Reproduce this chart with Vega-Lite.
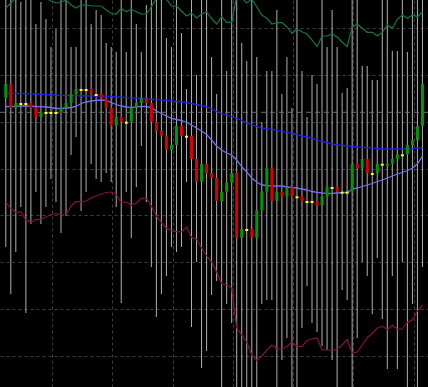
{
  "$schema": "https://vega.github.io/schema/vega-lite/v6.json",
  "width": 428,
  "height": 387,
  "padding": 0,
  "autosize": {"type": "none"},
  "background": "#000000",
  "config": {
    "view": {"stroke": null},
    "axis": {"grid": true, "gridColor": "#3e3e3e", "gridDash": [3, 3], "gridWidth": 1, "labels": false, "ticks": false, "domain": false, "title": null}
  },
  "data": {"values": [
    {"i":0,"d":"up","t":84,"b":97.7,"lt":0,"lb":247,"m1":93.3,"m2":106.7,"g":8,"r":202},
    {"i":1,"d":"down","t":84,"b":107.7,"lt":0,"lb":294,"m1":93.3,"m2":106.5,"g":3,"r":208.5},
    {"i":2,"d":"up","t":103,"b":107.7,"lt":0,"lb":252,"m1":93.4,"m2":106.3,"g":-2,"r":212.5},
    {"i":3,"d":"doji","t":103,"b":105,"lt":2,"lb":207,"m1":93.5,"m2":106,"g":-4,"r":212},
    {"i":4,"d":"doji","t":103,"b":105,"lt":0,"lb":313,"m1":93.6,"m2":106,"g":-4,"r":220},
    {"i":5,"d":"down","t":103,"b":107.7,"lt":0,"lb":224,"m1":93.8,"m2":106.2,"g":-3,"r":222},
    {"i":6,"d":"down","t":107.7,"b":117,"lt":24,"lb":192,"m1":94,"m2":106.5,"g":-3,"r":219.5},
    {"i":7,"d":"up","t":112.3,"b":117,"lt":2,"lb":224,"m1":94.3,"m2":106.7,"g":-2,"r":219.5},
    {"i":8,"d":"doji","t":112,"b":114,"lt":19,"lb":207,"m1":94.5,"m2":107,"g":-2,"r":217},
    {"i":9,"d":"doji","t":112,"b":114,"lt":47,"lb":179,"m1":94.8,"m2":107.5,"g":1,"r":214.5},
    {"i":10,"d":"doji","t":112,"b":114,"lt":29,"lb":202,"m1":95,"m2":108.5,"g":3,"r":213.5},
    {"i":11,"d":"up","t":107.7,"b":112.3,"lt":0,"lb":233,"m1":95.3,"m2":108.5,"g":2,"r":215},
    {"i":12,"d":"up","t":103,"b":107.7,"lt":0,"lb":216,"m1":95.6,"m2":108,"g":0,"r":214.5},
    {"i":13,"d":"up","t":93.7,"b":103,"lt":47,"lb":155,"m1":95.7,"m2":107.5,"g":5,"r":206},
    {"i":14,"d":"up","t":89,"b":93.7,"lt":47,"lb":137,"m1":95.7,"m2":106.5,"g":8,"r":201.7},
    {"i":15,"d":"doji","t":89,"b":91,"lt":0,"lb":211,"m1":95.8,"m2":103.5,"g":5,"r":201.7},
    {"i":16,"d":"doji","t":89,"b":91,"lt":0,"lb":192,"m1":95.8,"m2":102,"g":5,"r":201},
    {"i":17,"d":"down","t":89,"b":93.7,"lt":24,"lb":164,"m1":95.9,"m2":101,"g":6,"r":198},
    {"i":18,"d":"doji","t":94,"b":96,"lt":10,"lb":179,"m1":96,"m2":100.3,"g":6,"r":196},
    {"i":19,"d":"down","t":93.7,"b":98.3,"lt":15,"lb":182,"m1":96.1,"m2":100,"g":6,"r":194},
    {"i":20,"d":"down","t":98.3,"b":107.7,"lt":43,"lb":173,"m1":96.2,"m2":100.5,"g":10,"r":192.5},
    {"i":21,"d":"down","t":107.7,"b":125.7,"lt":47,"lb":182,"m1":96.4,"m2":102.5,"g":13.5,"r":192},
    {"i":22,"d":"up","t":117,"b":125.7,"lt":52,"lb":207,"m1":96.8,"m2":104.5,"g":14,"r":194.5},
    {"i":23,"d":"down","t":117,"b":121.7,"lt":0,"lb":303,"m1":97.2,"m2":106,"g":8.3,"r":202.5},
    {"i":24,"d":"doji","t":121.7,"b":123.7,"lt":52,"lb":192,"m1":97.6,"m2":107,"g":11.7,"r":202},
    {"i":25,"d":"up","t":107.7,"b":121.7,"lt":0,"lb":238,"m1":97.8,"m2":107.3,"g":9.3,"r":205},
    {"i":26,"d":"up","t":103,"b":107.7,"lt":24,"lb":187,"m1":98.2,"m2":107,"g":11.7,"r":203},
    {"i":27,"d":"up","t":98.3,"b":103,"lt":52,"lb":146,"m1":98.6,"m2":106.3,"g":14,"r":198.3},
    {"i":28,"d":"down","t":98.3,"b":103,"lt":5,"lb":202,"m1":99,"m2":106.5,"g":14,"r":198.5},
    {"i":29,"d":"down","t":103,"b":121.7,"lt":0,"lb":267,"m1":99.4,"m2":107.5,"g":7,"r":206},
    {"i":30,"d":"down","t":121.7,"b":131,"lt":0,"lb":317,"m1":99.7,"m2":111,"g":-2,"r":216},
    {"i":31,"d":"down","t":131,"b":135.7,"lt":0,"lb":294,"m1":100.1,"m2":113.5,"g":-3,"r":222.5},
    {"i":32,"d":"down","t":135.7,"b":149.7,"lt":38,"lb":276,"m1":100.5,"m2":116,"g":-1,"r":228.3},
    {"i":33,"d":"up","t":145,"b":149.7,"lt":47,"lb":247,"m1":101,"m2":118.5,"g":6,"r":230.5},
    {"i":34,"d":"up","t":125.7,"b":145,"lt":0,"lb":252,"m1":101.5,"m2":119.5,"g":6,"r":231.7},
    {"i":35,"d":"down","t":125.7,"b":135.7,"lt":33,"lb":247,"m1":102,"m2":120.5,"g":11,"r":232},
    {"i":36,"d":"doji","t":135.7,"b":137.7,"lt":89,"lb":182,"m1":102.7,"m2":122.5,"g":16,"r":227},
    {"i":37,"d":"down","t":135.7,"b":159,"lt":0,"lb":327,"m1":103.5,"m2":125,"g":13.3,"r":237.5},
    {"i":38,"d":"down","t":159,"b":181.7,"lt":75,"lb":262,"m1":104.5,"m2":128,"g":18,"r":239.5},
    {"i":39,"d":"up","t":163.7,"b":181.7,"lt":0,"lb":368,"m1":105.5,"m2":131,"g":14,"r":248},
    {"i":40,"d":"down","t":163.7,"b":173,"lt":0,"lb":351,"m1":106.5,"m2":134.5,"g":12,"r":256},
    {"i":41,"d":"down","t":173,"b":177.7,"lt":57,"lb":295,"m1":109,"m2":140,"g":18.5,"r":262},
    {"i":42,"d":"down","t":177.7,"b":201,"lt":94,"lb":281,"m1":111.5,"m2":146,"g":24,"r":272},
    {"i":43,"d":"up","t":191.7,"b":201,"lt":0,"lb":387,"m1":113.5,"m2":150,"g":16.7,"r":283.5},
    {"i":44,"d":"up","t":182.3,"b":191.7,"lt":71,"lb":304,"m1":115,"m2":153,"g":22.3,"r":285},
    {"i":45,"d":"up","t":173,"b":182.3,"lt":0,"lb":323,"m1":116.5,"m2":155,"g":22.3,"r":288},
    {"i":46,"d":"down","t":173,"b":237.7,"lt":0,"lb":387,"m1":118.5,"m2":160,"g":-4,"r":328},
    {"i":47,"d":"up","t":229,"b":237.7,"lt":43,"lb":387,"m1":120.5,"m2":166.7,"g":-2,"r":335},
    {"i":48,"d":"doji","t":229,"b":231,"lt":61,"lb":387,"m1":123,"m2":172,"g":3,"r":342},
    {"i":49,"d":"down","t":229,"b":237.7,"lt":0,"lb":387,"m1":125,"m2":178,"g":-1,"r":355},
    {"i":50,"d":"up","t":210.3,"b":237.7,"lt":57,"lb":387,"m1":126.5,"m2":182,"g":7,"r":360.5},
    {"i":51,"d":"up","t":191.7,"b":210.3,"lt":122,"lb":304,"m1":128,"m2":185,"g":15,"r":356},
    {"i":52,"d":"up","t":168.3,"b":191.7,"lt":71,"lb":300,"m1":128.8,"m2":185.5,"g":18.3,"r":350},
    {"i":53,"d":"down","t":168.3,"b":201,"lt":71,"lb":300,"m1":129.3,"m2":186,"g":24,"r":345},
    {"i":54,"d":"up","t":191.7,"b":201,"lt":10,"lb":387,"m1":130.3,"m2":186,"g":22.7,"r":349},
    {"i":55,"d":"down","t":191.7,"b":196.3,"lt":94,"lb":360,"m1":131.3,"m2":186,"g":22.7,"r":349},
    {"i":56,"d":"up","t":187,"b":196.3,"lt":57,"lb":338,"m1":132.3,"m2":187,"g":26.7,"r":346.5},
    {"i":57,"d":"down","t":187,"b":196.3,"lt":108,"lb":387,"m1":133.3,"m2":187.5,"g":33.3,"r":342},
    {"i":58,"d":"doji","t":196.3,"b":198.3,"lt":0,"lb":387,"m1":134.5,"m2":188,"g":29,"r":346.5},
    {"i":59,"d":"down","t":196.3,"b":201,"lt":71,"lb":328,"m1":136,"m2":189,"g":31.7,"r":346.5},
    {"i":60,"d":"doji","t":201,"b":203,"lt":117,"lb":286,"m1":137,"m2":190,"g":34,"r":340.5},
    {"i":61,"d":"doji","t":201,"b":203,"lt":75,"lb":323,"m1":138.3,"m2":191.5,"g":40,"r":339},
    {"i":62,"d":"down","t":201,"b":205.7,"lt":84,"lb":332,"m1":140,"m2":192.3,"g":46.7,"r":338},
    {"i":63,"d":"up","t":196.3,"b":205.7,"lt":0,"lb":346,"m1":141.5,"m2":193,"g":36,"r":350},
    {"i":64,"d":"up","t":187,"b":196.3,"lt":47,"lb":350,"m1":142.5,"m2":193.3,"g":36,"r":350},
    {"i":65,"d":"doji","t":187,"b":189,"lt":10,"lb":360,"m1":144,"m2":193.3,"g":34,"r":350},
    {"i":66,"d":"down","t":187,"b":191.7,"lt":47,"lb":387,"m1":145,"m2":193,"g":37,"r":349},
    {"i":67,"d":"doji","t":191.7,"b":193.7,"lt":93,"lb":290,"m1":145.5,"m2":192.7,"g":42,"r":345},
    {"i":68,"d":"doji","t":191.7,"b":193.7,"lt":88,"lb":300,"m1":146,"m2":192.5,"g":46.7,"r":339.5},
    {"i":69,"d":"up","t":163.7,"b":191.7,"lt":0,"lb":387,"m1":146.5,"m2":189,"g":27,"r":353},
    {"i":70,"d":"down","t":163.7,"b":168.3,"lt":0,"lb":338,"m1":147,"m2":188,"g":24,"r":352},
    {"i":71,"d":"up","t":159,"b":168.3,"lt":66,"lb":262,"m1":147.2,"m2":186.5,"g":28.3,"r":345},
    {"i":72,"d":"down","t":159,"b":173,"lt":66,"lb":276,"m1":147.7,"m2":185,"g":32.3,"r":337.5},
    {"i":73,"d":"doji","t":173,"b":175,"lt":80,"lb":314,"m1":148.2,"m2":183.5,"g":32.3,"r":333.5},
    {"i":74,"d":"up","t":163.7,"b":173,"lt":80,"lb":258,"m1":148.5,"m2":181.5,"g":36,"r":328},
    {"i":75,"d":"doji","t":163.7,"b":165.7,"lt":0,"lb":319,"m1":149,"m2":180,"g":32.3,"r":326.3},
    {"i":76,"d":"up","t":163.7,"b":165.7,"lt":0,"lb":369,"m1":149,"m2":178,"g":25,"r":329.5},
    {"i":77,"d":"up","t":159,"b":163.7,"lt":51,"lb":276,"m1":149,"m2":176,"g":28.3,"r":325.3},
    {"i":78,"d":"up","t":154.3,"b":159,"lt":51,"lb":369,"m1":149,"m2":174,"g":19.3,"r":329.3},
    {"i":79,"d":"doji","t":154.3,"b":156.3,"lt":0,"lb":262,"m1":149,"m2":172.5,"g":15,"r":329},
    {"i":80,"d":"up","t":145,"b":154.3,"lt":52,"lb":387,"m1":149,"m2":170.5,"g":18.3,"r":322.5},
    {"i":81,"d":"up","t":140.3,"b":145,"lt":0,"lb":304,"m1":148.8,"m2":168.3,"g":15,"r":319.7},
    {"i":82,"d":"up","t":126.3,"b":140.3,"lt":0,"lb":387,"m1":148,"m2":164,"g":16.7,"r":311},
    {"i":83,"d":"up","t":84,"b":125.7,"lt":0,"lb":267,"m1":147.8,"m2":156,"g":12,"r":305}
  ]},
  "layer": [
    {
      "mark": {"type": "rule", "color": "#b0b0b0", "strokeWidth": 1},
      "encoding": {
        "x": {"field": "i", "type": "quantitative", "scale": {"domain": [-0.156, 83.11], "nice": false, "zero": false},
              "axis": {"values": [9.24, 21.24, 33.24, 45.24, 57.24, 69.24, 81.24]}},
        "y": {"field": "lt", "type": "quantitative", "scale": {"domain": [0, 387], "reverse": true, "nice": false, "zero": false},
              "axis": {"values": [28.3, 75, 121.8, 168.6, 215.4, 262.2, 309, 355.8]}},
        "y2": {"field": "lb"}
      }
    },
    {
      "data": {"values": [{"level": 112.3}]},
      "mark": {"type": "rule", "color": "#707070", "strokeDash": [5, 4], "strokeWidth": 1},
      "encoding": {
        "y": {"field": "level", "type": "quantitative", "axis": {"values": [28.3, 75, 121.8, 168.6, 215.4, 262.2, 309, 355.8]}}
      }
    },
    {
      "mark": {"type": "line", "color": "#11773f", "strokeWidth": 1.2, "clip": true},
      "encoding": {
        "x": {"field": "i", "type": "quantitative", "axis": {"values": [9.24, 21.24, 33.24, 45.24, 57.24, 69.24, 81.24]}},
        "y": {"field": "g", "type": "quantitative", "axis": {"values": [28.3, 75, 121.8, 168.6, 215.4, 262.2, 309, 355.8]}}
      }
    },
    {
      "mark": {"type": "line", "color": "#86103f", "strokeWidth": 1.2, "clip": true},
      "encoding": {
        "x": {"field": "i", "type": "quantitative", "axis": {"values": [9.24, 21.24, 33.24, 45.24, 57.24, 69.24, 81.24]}},
        "y": {"field": "r", "type": "quantitative", "axis": {"values": [28.3, 75, 121.8, 168.6, 215.4, 262.2, 309, 355.8]}}
      }
    },
    {
      "mark": {"type": "line", "color": "#2020e6", "strokeWidth": 1.3, "clip": true},
      "encoding": {
        "x": {"field": "i", "type": "quantitative", "axis": {"values": [9.24, 21.24, 33.24, 45.24, 57.24, 69.24, 81.24]}},
        "y": {"field": "m1", "type": "quantitative", "axis": {"values": [28.3, 75, 121.8, 168.6, 215.4, 262.2, 309, 355.8]}}
      }
    },
    {
      "mark": {"type": "line", "color": "#7070f4", "strokeWidth": 1.3, "clip": true},
      "encoding": {
        "x": {"field": "i", "type": "quantitative", "axis": {"values": [9.24, 21.24, 33.24, 45.24, 57.24, 69.24, 81.24]}},
        "y": {"field": "m2", "type": "quantitative", "axis": {"values": [28.3, 75, 121.8, 168.6, 215.4, 262.2, 309, 355.8]}}
      }
    },
    {
      "mark": {"type": "bar", "size": 3, "clip": true},
      "encoding": {
        "x": {"field": "i", "type": "quantitative", "axis": {"values": [9.24, 21.24, 33.24, 45.24, 57.24, 69.24, 81.24]}},
        "y": {"field": "t", "type": "quantitative", "axis": {"values": [28.3, 75, 121.8, 168.6, 215.4, 262.2, 309, 355.8]}},
        "y2": {"field": "b"},
        "color": {"field": "d", "type": "nominal", "scale": {"domain": ["up", "down", "doji"], "range": ["#009a00", "#d80000", "#ffff00"]}, "legend": null}
      }
    }
  ]
}
